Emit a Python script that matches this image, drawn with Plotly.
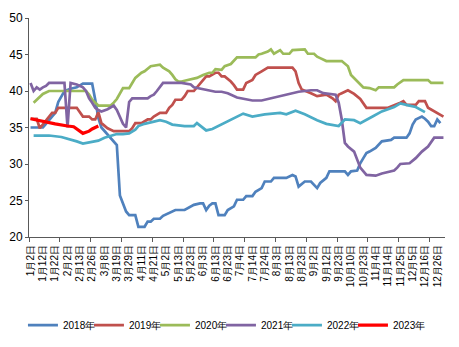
import plotly.graph_objects as go

# Category labels on the x axis (every 4th observation of 135)
tick_labels = ["1月2日", "1月12日", "1月22日", "2月2日", "2月13日", "2月26日", "3月8日",
               "3月19日", "3月29日", "4月11日", "4月21日", "5月2日", "5月13日", "5月23日",
               "6月3日", "6月13日", "6月23日", "7月4日", "7月14日", "7月24日", "8月3日",
               "8月13日", "8月23日", "9月2日", "9月12日", "9月23日", "10月10日", "10月23日",
               "11月4日", "11月14日", "11月25日", "12月5日", "12月16日", "12月26日"]
n_points = 135
label_step = 4
tick_mark_step = 10

idx_2018 = [0, 4, 5, 6, 8, 9, 11, 13, 15, 17, 20, 21, 22, 23, 24, 26, 27, 28, 29, 30, 31, 32, 34, 35,
            37, 38, 39, 40, 42, 43, 45, 47, 50, 52, 53, 55, 56, 57, 58, 59, 60, 61, 63, 64, 66, 67,
            69, 70, 72, 73, 75, 76, 78, 79, 83, 85, 86, 87, 89, 91, 92, 93, 94, 96, 97, 102, 103,
            104, 106, 107, 108, 109, 110, 112, 114, 117, 118, 122, 123, 124, 125, 127, 128, 129,
            130, 131, 132, 133]
val_2018 = [35, 35, 35.5, 36, 37, 38.5, 40, 40.3, 40.5, 41, 41, 38.8, 36.3, 35, 34.5, 33.6, 33, 32.6,
            25.7, 24.7, 23.5, 23, 23, 21.4, 21.4, 22.1, 22.1, 22.5, 22.5, 22.9, 23.3, 23.7, 23.7,
            24.1, 24.4, 24.6, 24.6, 23.7, 24.3, 24.6, 24.6, 23, 23, 23.7, 24.2, 25.1, 25.1, 25.6,
            25.6, 26.2, 26.7, 27.6, 27.6, 28.1, 28.1, 28.5, 28.3, 26.9, 27.6, 27.6, 27.2, 26.7, 27.4,
            28.1, 29, 29, 28.5, 29, 29.1, 30.1, 30.8, 31.5, 31.7, 32.2, 33.1, 33.3, 33.6, 33.6, 34.2,
            35.4, 36.1, 36.5, 36.2, 35.8, 35.2, 35.2, 36.1, 35.6]

idx_2019 = [0, 2, 3, 4, 5, 7, 8, 9, 15, 17, 19, 20, 21, 22, 23, 25, 27, 32, 33, 34, 36, 38, 39, 40,
            42, 44, 45, 46, 47, 49, 50, 51, 53, 54, 55, 57, 58, 60, 61, 62, 63, 65, 66, 67, 69, 70,
            72, 73, 75, 77, 85, 86, 87, 88, 91, 93, 96, 98, 99, 100, 101, 103, 105, 107, 109, 116,
            120, 121, 122, 125, 126, 128, 129, 131, 132, 134]
val_2019 = [36.2, 36.2, 34.9, 35.4, 36, 37, 37, 37.7, 37.7, 36.5, 36.5, 36.1, 36.1, 37.1, 35.6, 34.9,
            34.5, 34.5, 34.9, 35.6, 35.6, 36.1, 36.1, 36.5, 37, 37, 37.7, 38.1, 38.8, 38.8, 39.3, 40,
            40, 40.5, 41, 42, 42, 42.5, 42.5, 42, 42, 41.3, 40.8, 40.2, 40.2, 41.1, 41.5, 42.2, 42.7,
            43.2, 43.2, 42.7, 41.1, 40.2, 39.7, 39.3, 39.5, 39, 38.6, 39.5, 39.7, 40.1, 39.6, 38.9,
            37.7, 37.7, 38.4, 38.6, 38.1, 38.1, 38.6, 38.6, 37.7, 37.2, 37, 36.5]

idx_2020 = [1, 3, 4, 6, 18, 19, 20, 22, 26, 27, 28, 30, 32, 33, 34, 36, 37, 39, 41, 42, 43, 44, 45,
            46, 47, 48, 49, 51, 54, 56, 58, 59, 60, 62, 63, 65, 66, 67, 73, 74, 75, 77, 78, 79, 81,
            82, 84, 85, 89, 90, 92, 93, 94, 96, 101, 103, 104, 105, 106, 107, 108, 110, 112, 113,
            118, 119, 121, 129, 130, 134]
val_2020 = [38.4, 39.3, 39.6, 40, 40, 39.5, 38.8, 38, 38, 38.4, 38.9, 40.4, 40.4, 41.1, 41.8, 42.5,
            42.7, 43.4, 43.6, 43.6, 43.2, 43, 42.7, 42.2, 41.6, 41.3, 41.3, 41.5, 41.8, 42.2, 42.5,
            42.5, 43, 42.9, 43.4, 43.7, 44.1, 44.6, 44.6, 45, 45.1, 45.4, 45.7, 45.1, 45.6, 45.1,
            45.1, 45.6, 45.7, 45.1, 45.1, 44.7, 44.5, 44.1, 44.1, 43.4, 42.2, 41.8, 41.3, 40.9, 40.5,
            40.4, 40.1, 40.5, 40.5, 40.9, 41.5, 41.5, 41.1, 41.1]

idx_2021 = [0, 1, 2, 3, 4, 5, 6, 11, 12, 13, 15, 17, 18, 19, 20, 21, 22, 23, 25, 26, 27, 28, 29, 30,
            31, 32, 33, 38, 39, 40, 41, 42, 43, 49, 50, 52, 53, 56, 58, 60, 62, 64, 67, 70, 72, 75,
            78, 81, 84, 87, 91, 93, 95, 98, 99, 100, 101, 102, 103, 105, 106, 107, 109, 112, 114,
            118, 119, 120, 123, 125, 127, 129, 131, 134]
val_2021 = [41.1, 40, 40.5, 40.2, 40.5, 40.7, 41.1, 41.1, 35, 41.1, 40.9, 40.5, 40, 39, 38.4, 37.7,
            37.4, 37.2, 37.5, 37.7, 38, 37.4, 36.5, 35.5, 35, 38.5, 39, 39, 39.3, 39.5, 40, 40.5, 41.1,
            41.1, 41, 40.9, 40.5, 40.2, 40, 39.9, 39.9, 39.7, 39.1, 38.9, 38.7, 38.7, 39, 39.4, 39.6,
            39.9, 40.1, 40.1, 39.7, 39.6, 39.5, 38.4, 36.1, 32.9, 32.4, 31.7, 30.6, 29.5, 28.5, 28.4,
            28.7, 29.1, 29.5, 30, 30.1, 30.8, 31.7, 32.4, 33.6, 33.6]

idx_2022 = [1, 6, 10, 13, 15, 17, 19, 22, 24, 26, 28, 30, 32, 34, 35, 37, 40, 42, 44, 46, 50, 53, 54,
            56, 57, 59, 61, 64, 67, 69, 72, 76, 81, 83, 86, 89, 93, 96, 100, 102, 105, 107, 111, 114,
            118, 120, 123, 125, 128]
val_2022 = [33.9, 33.9, 33.7, 33.4, 33.1, 32.8, 33, 33.2, 33.6, 33.9, 34.1, 34.1, 34.2, 34.7, 35.2,
            35.5, 35.8, 36, 35.8, 35.4, 35.2, 35.2, 35.6, 34.9, 34.6, 34.8, 35.2, 35.8, 36.4, 36.9,
            36.5, 36.8, 37, 36.8, 37.3, 36.8, 36, 35.5, 35.2, 36.1, 36, 35.6, 36.5, 37.2, 37.8, 38.3,
            38, 37.8, 37.1]

idx_2023 = [0, 2, 5, 8, 12, 14, 17, 19, 20, 22]
val_2023 = [36.2, 36, 35.7, 35.5, 35.2, 35.1, 34.2, 34.5, 34.8, 35.2]

series_names = ["2018年", "2019年", "2020年", "2021年", "2022年", "2023年"]
series_x = [idx_2018, idx_2019, idx_2020, idx_2021, idx_2022, idx_2023]
series_y = [val_2018, val_2019, val_2020, val_2021, val_2022, val_2023]
colors = ["#4F81BD", "#C0504D", "#9BBB59", "#8064A2", "#4BACC6", "#FF0000"]
widths = [2.7, 2.7, 2.7, 2.7, 2.7, 3.2]
legend_widths = [21, 21, 21, 21, 21, 38]

fig = go.Figure()
for name, xs, ys, c, w, lw in zip(series_names, series_x, series_y, colors, widths, legend_widths):
    fig.add_trace(go.Scatter(x=xs, y=ys, mode="lines", name=name, legendwidth=lw,
                             line=dict(color=c, width=w)))

font_fam = "Liberation Sans Narrow, Arial Narrow, Liberation Sans, Arial, sans-serif"
axis_col = "#595959"

fig.update_layout(
    width=459, height=347,
    margin=dict(l=29, r=14, t=18, b=110),
    plot_bgcolor="white", paper_bgcolor="white",
    font=dict(family=font_fam, size=12, color="black"),
    showlegend=True,
    legend=dict(orientation="h", xref="container", yref="container",
                x=0.05, xanchor="left", y=0.063, yanchor="middle",
                font=dict(family=font_fam, size=10, color="black"),
                itemwidth=30, entrywidth=21, entrywidthmode="pixels",
                tracegroupgap=0, bgcolor="rgba(0,0,0,0)"),
    xaxis=dict(
        range=[-0.5, n_points - 0.5],
        tickmode="array",
        tickvals=[label_step * k for k in range(len(tick_labels))],
        ticktext=tick_labels,
        tickangle=-90,
        tickfont=dict(family=font_fam, size=10, color="black"),
        ticks="", showgrid=False, zeroline=False,
        ticklabelstandoff=3,
        showline=True, linecolor=axis_col, linewidth=1,
        minor=dict(tickmode="linear", tick0=-0.5, dtick=tick_mark_step, ticks="outside",
                   ticklen=4, tickcolor=axis_col, tickwidth=1, showgrid=False),
        automargin=False,
    ),
    yaxis=dict(
        range=[20, 50], tickmode="linear", tick0=20, dtick=5,
        ticks="outside", ticklen=3, tickcolor=axis_col,
        showgrid=False, zeroline=False,
        showline=True, linecolor=axis_col, linewidth=1,
        tickfont=dict(family=font_fam, size=12, color="black"),
        automargin=False,
    ),
)

fig.write_html("out.html")
